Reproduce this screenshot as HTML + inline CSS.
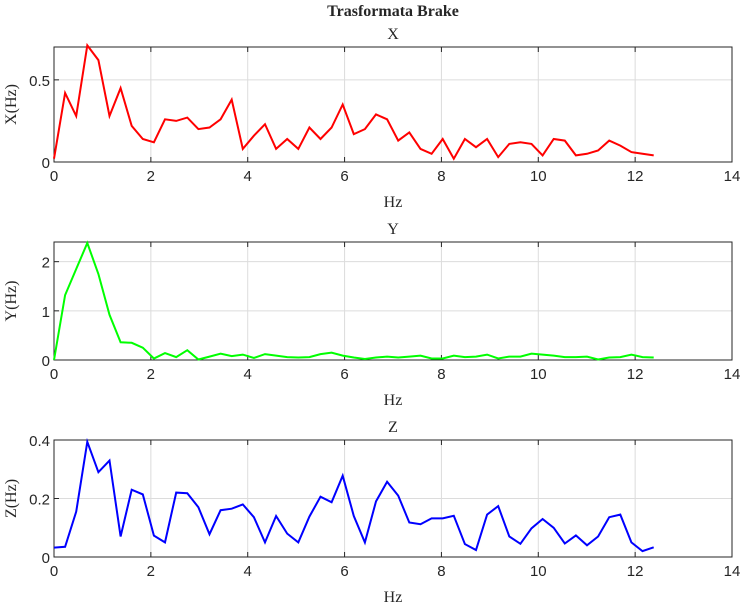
<!DOCTYPE html>
<html><head><meta charset="utf-8"><style>
body{margin:0;background:#fff}
svg text{font-family:"Liberation Serif",serif;fill:#262626}
svg text.tick{font-family:"Liberation Sans",sans-serif}
</style></head><body>
<svg id="c" width="745" height="604" xmlns="http://www.w3.org/2000/svg">
<text x="393" y="16" text-anchor="middle" font-weight="bold" font-size="16">Trasformata Brake</text>
</svg>
<script>
const df = 0.2293;
const xTicks = [0,2,4,6,8,10,12,14];
const xData = [0.02,0.42,0.28,0.71,0.62,0.28,0.45,0.22,0.14,0.12,0.26,0.25,0.27,0.20,0.21,0.26,0.38,0.08,0.16,0.23,0.08,0.14,0.08,0.21,0.14,0.21,0.35,0.17,0.20,0.29,0.26,0.13,0.18,0.08,0.05,0.14,0.02,0.14,0.09,0.14,0.03,0.11,0.12,0.11,0.04,0.14,0.13,0.04,0.05,0.07,0.13,0.10,0.06,0.05,0.04];
const yData = [0,1.32,1.85,2.38,1.75,0.92,0.36,0.35,0.25,0.03,0.14,0.06,0.20,0.01,0.07,0.13,0.08,0.11,0.04,0.12,0.09,0.06,0.05,0.06,0.12,0.15,0.09,0.05,0.02,0.05,0.07,0.05,0.07,0.09,0.03,0.03,0.09,0.06,0.07,0.11,0.03,0.07,0.07,0.13,0.11,0.09,0.06,0.06,0.07,0.01,0.05,0.06,0.11,0.06,0.05];
const zData = [0.032,0.035,0.155,0.394,0.29,0.33,0.07,0.23,0.214,0.073,0.05,0.22,0.218,0.17,0.078,0.16,0.165,0.18,0.136,0.05,0.14,0.08,0.05,0.138,0.206,0.187,0.278,0.14,0.05,0.19,0.257,0.21,0.118,0.112,0.132,0.132,0.141,0.044,0.024,0.145,0.174,0.07,0.045,0.098,0.13,0.1,0.046,0.074,0.04,0.07,0.136,0.145,0.05,0.02,0.033];
const panels = [
 {name:'x',title:'X',ylab:'X(Hz)',data:xData,color:'#ff0000',top:47,bot:162,ymax:0.7,yTicks:[0,0.5],yLabels:['0','0.5']},
 {name:'y',title:'Y',ylab:'Y(Hz)',data:yData,color:'#00ff00',top:242,bot:360,ymax:2.4,yTicks:[0,1,2],yLabels:['0','1','2']},
 {name:'z',title:'Z',ylab:'Z(Hz)',data:zData,color:'#0000ff',top:440,bot:557,ymax:0.4,yTicks:[0,0.2,0.4],yLabels:['0','0.2','0.4']}
];
const svg=document.getElementById('c');
const NS='http://www.w3.org/2000/svg';
const L=54,R=732;
function mk(t,a,p){const e=document.createElementNS(NS,t);for(const k in a)e.setAttribute(k,a[k]);(p||svg).appendChild(e);return e;}
const sx=v=>L+(R-L)*v/14;
const cx=(L+R)/2;
panels.forEach(p=>{
 const g=mk('g',{});
 
 
 const sy=v=>p.bot-(p.bot-p.top)*v/p.ymax;
 xTicks.forEach(t=>{
  if(t>0&&t<14){const gl=mk('line',{x1:sx(t),x2:sx(t),y1:p.top,y2:p.bot,stroke:'#dcdcdc','stroke-width':1},g);
  }
  const tk=mk('line',{x1:sx(t),x2:sx(t),y1:p.bot,y2:p.bot-5,stroke:'#262626'},g);
  
  const tk2=mk('line',{x1:sx(t),x2:sx(t),y1:p.top,y2:p.top+5,stroke:'#262626'},g);
  
  const tl=mk('text',{x:sx(t),y:p.bot+19,'text-anchor':'middle','font-size':15,class:'tick'},g);tl.textContent=t;
  
 });
 p.yTicks.forEach((t,i)=>{
  if(t>0&&t<p.ymax){const gl=mk('line',{x1:L,x2:R,y1:sy(t),y2:sy(t),stroke:'#dcdcdc'},g);
  }
  const tk=mk('line',{x1:L,x2:L+5,y1:sy(t),y2:sy(t),stroke:'#262626'},g);
  
  const tl=mk('text',{x:L-4,y:sy(t)+6,'text-anchor':'end','font-size':15,class:'tick'},g);tl.textContent=p.yLabels[i];
  
 });
 const fr=mk('rect',{x:L,y:p.top,width:R-L,height:p.bot-p.top,fill:'none',stroke:'#262626','stroke-width':1},g);
 
 const pts=p.data.map((v,i)=>sx(i*df).toFixed(1)+','+sy(v).toFixed(1)).join(' ');
 const ln=mk('polyline',{points:pts,fill:'none',stroke:p.color,'stroke-width':2},g);
 
 const ti=mk('text',{x:cx,y:p.top-8,'text-anchor':'middle','font-size':16},g);ti.textContent=p.title;
 
 const xl=mk('text',{x:cx,y:p.bot+45,'text-anchor':'middle','font-size':16},g);xl.textContent='Hz';
 
 const cy=(p.top+p.bot)/2;
 const yl=mk('text',{x:16,y:cy,'text-anchor':'middle','font-size':16,transform:`rotate(-90 16 ${cy})`},g);yl.textContent=p.ylab;
 
});
</script>
</body></html>
